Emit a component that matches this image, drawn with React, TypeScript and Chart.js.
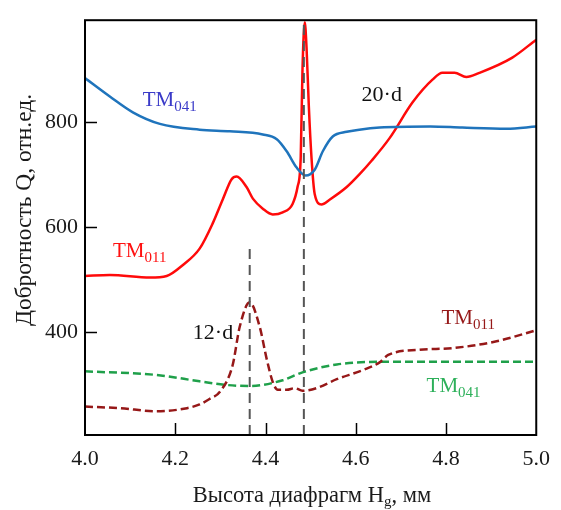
import React, { useEffect, useRef } from "react";
import { Chart, registerables } from "chart.js";

Chart.register(...registerables);

// ---- data ----
const xTicks = [4.2, 4.4, 4.6, 4.8];
const yTicks = [400, 600, 800];

const tm041SolidX = [4.0, 4.055, 4.106, 4.166, 4.254, 4.321, 4.394, 4.425, 4.447, 4.469, 4.489, 4.509, 4.527, 4.549, 4.58, 4.608, 4.653, 4.765, 4.836, 4.934, 5.0];
const tm041SolidY = [883, 848, 818, 796, 785, 782, 776, 767, 744, 713, 698, 709, 744, 772, 781, 785, 789, 791, 789, 787, 791];

const tm011SolidX = [4.0, 4.055, 4.144, 4.181, 4.217, 4.254, 4.283, 4.305, 4.325, 4.336, 4.358, 4.372, 4.394, 4.416, 4.438, 4.46, 4.471, 4.478, 4.482, 4.487, 4.491, 4.496, 4.502, 4.509, 4.524, 4.542, 4.58, 4.608, 4.635, 4.675, 4.726, 4.77, 4.792, 4.819, 4.845, 4.874, 4.947, 5.0];
const tm011SolidY = [507, 509, 504, 507, 528, 559, 607, 652, 691, 696, 676, 654, 635, 624, 628, 644, 676, 731, 900, 989, 940, 830, 731, 663, 643, 652, 676, 700, 726, 769, 837, 880, 893, 893, 885, 893, 922, 956];

const tm011DashX = [4.0, 4.077, 4.159, 4.226, 4.254, 4.277, 4.299, 4.327, 4.343, 4.365, 4.387, 4.403, 4.416, 4.427, 4.447, 4.465, 4.482, 4.513, 4.558, 4.615, 4.653, 4.672, 4.741, 4.814, 4.912, 5.0];
const tm011DashY = [259, 256, 250, 256, 263, 274, 287, 337, 411, 457, 411, 348, 306, 291, 291, 294, 289, 294, 311, 328, 343, 357, 367, 370, 383, 404];

const tm041DashX = [4.0, 4.159, 4.254, 4.314, 4.365, 4.438, 4.482, 4.558, 4.653, 4.8, 5.0];
const tm041DashY = [326, 319, 307, 300, 298, 309, 324, 339, 344, 344, 344];

const markerX = [4.365, 4.485];
const markerTop = [565, 993];

const FONT = '"Liberation Serif", "Times New Roman", serif';

type Lbl = { x: number; y: number; main: string; sub: string; color: string; size: number };
const curveLabels: Lbl[] = [
  { x: 4.128, y: 830, main: "TM", sub: "041", color: "#3a3ac8", size: 21 },
  { x: 4.062, y: 543, main: "TM", sub: "011", color: "#ff1010", size: 21 },
  { x: 4.79, y: 415, main: "TM", sub: "011", color: "#961818", size: 21 },
  { x: 4.757, y: 287, main: "TM", sub: "041", color: "#2db05a", size: 21 },
  { x: 4.613, y: 839, main: "20·d", sub: "", color: "#111111", size: 22 },
  { x: 4.239, y: 387, main: "12·d", sub: "", color: "#111111", size: 22 },
];

const pts = (xs: number[], ys: number[]) => xs.map((x, i) => ({ x, y: ys[i] }));

const decorPlugin = {
  id: "decor",
  afterDatasetsDraw(chart: any) {
    const { ctx, chartArea: a, scales } = chart;
    const xs = scales.x;
    const ys = scales.y;
    ctx.save();
    // dashed markers
    ctx.strokeStyle = "#555555";
    ctx.lineWidth = 2;
    ctx.setLineDash([10, 6]);
    markerX.forEach((mx, i) => {
      const px = xs.getPixelForValue(mx);
      ctx.beginPath();
      ctx.moveTo(px, a.bottom);
      ctx.lineTo(px, ys.getPixelForValue(markerTop[i]));
      ctx.stroke();
    });
    ctx.setLineDash([]);
    // labels
    curveLabels.forEach((l) => {
      const px = xs.getPixelForValue(l.x);
      const py = ys.getPixelForValue(l.y);
      ctx.fillStyle = l.color;
      ctx.textAlign = "left";
      ctx.textBaseline = "alphabetic";
      ctx.font = `${l.size}px ${FONT}`;
      ctx.fillText(l.main, px, py);
      if (l.sub) {
        const w = ctx.measureText(l.main).width;
        ctx.font = `15px ${FONT}`;
        ctx.fillText(l.sub, px + w, py + 5);
      }
    });
    ctx.restore();
  },
  afterDraw(chart: any) {
    const { ctx, chartArea: a, scales } = chart;
    ctx.save();
    ctx.strokeStyle = "#000";
    ctx.lineWidth = 2;
    ctx.strokeRect(a.left, a.top, a.right - a.left, a.bottom - a.top);
    ctx.lineWidth = 1.5;
    xTicks.forEach((t) => {
      const px = Math.round(scales.x.getPixelForValue(t)) + 0.5;
      ctx.beginPath();
      ctx.moveTo(px, a.bottom);
      ctx.lineTo(px, a.bottom - 12);
      ctx.stroke();
    });
    yTicks.forEach((t) => {
      const py = Math.round(scales.y.getPixelForValue(t)) + 0.5;
      ctx.beginPath();
      ctx.moveTo(a.left, py);
      ctx.lineTo(a.left + 12, py);
      ctx.stroke();
    });
    // axis titles
    ctx.fillStyle = "#1a1a1a";
    ctx.textBaseline = "alphabetic";
    const big = `22.5px ${FONT}`;
    const small = `15px ${FONT}`;
    const p1 = "Высота диафрагм H";
    const p2 = "g";
    const p3 = ", мм";
    ctx.font = big;
    const w1 = ctx.measureText(p1).width;
    const w3 = ctx.measureText(p3).width;
    ctx.font = small;
    const w2 = ctx.measureText(p2).width;
    const total = w1 + w2 + w3;
    const sx = 312 - total / 2;
    const by = 502;
    ctx.textAlign = "left";
    ctx.font = big;
    ctx.fillText(p1, sx, by);
    ctx.font = small;
    ctx.fillText(p2, sx + w1, by + 4);
    ctx.font = big;
    ctx.fillText(p3, sx + w1 + w2, by);

    ctx.translate(31, 210);
    ctx.rotate(-Math.PI / 2);
    ctx.textAlign = "center";
    ctx.font = `23.5px ${FONT}`;
    ctx.fillText("Добротность Q, отн.ед.", 0, 0);
    ctx.restore();
  },
};

export default function App() {
  const ref = useRef<HTMLCanvasElement | null>(null);
  useEffect(() => {
    document.body.style.margin = "0";
    const canvas = ref.current;
    if (!canvas) return;
    const chart = new Chart(canvas, {
      type: "line",
      data: {
        datasets: [
          {
            label: "TM041",
            data: pts(tm041SolidX, tm041SolidY),
            borderColor: "#1f74bc",
            borderWidth: 2.5,
            pointRadius: 0,
            cubicInterpolationMode: "monotone",
          },
          {
            label: "TM011 20·d",
            data: pts(tm011SolidX, tm011SolidY),
            borderColor: "#ff0a0a",
            borderWidth: 2.5,
            pointRadius: 0,
            cubicInterpolationMode: "monotone",
          },
          {
            label: "TM011 12·d",
            data: pts(tm011DashX, tm011DashY),
            borderColor: "#961818",
            borderWidth: 2.5,
            borderDash: [8, 4],
            pointRadius: 0,
            cubicInterpolationMode: "monotone",
          },
          {
            label: "TM041 dashed",
            data: pts(tm041DashX, tm041DashY),
            borderColor: "#1fa04a",
            borderWidth: 2.5,
            borderDash: [8, 4],
            pointRadius: 0,
            cubicInterpolationMode: "monotone",
          },
        ],
      },
      options: {
        animation: false,
        responsive: false,
        events: [],
        layout: { padding: { top: 9, right: 24, left: 0, bottom: 0 } },
        plugins: { legend: { display: false }, tooltip: { enabled: false } },
        scales: {
          x: {
            type: "linear",
            min: 4,
            max: 5,
            afterBuildTicks: (s: any) => {
              s.ticks = [4.0, ...xTicks, 5.0].map((v) => ({ value: v }));
            },
            afterFit: (s: any) => {
              s.height = 75;
            },
            ticks: {
              callback: (v: any) => Number(v).toFixed(1),
              font: { family: FONT, size: 22 },
              color: "#1a1a1a",
              padding: 11,
              maxRotation: 0,
            },
            grid: { display: false, drawTicks: false },
            border: { display: false },
          },
          y: {
            type: "linear",
            min: 205,
            max: 993,
            afterBuildTicks: (s: any) => {
              s.ticks = yTicks.map((v) => ({ value: v }));
            },
            afterFit: (s: any) => {
              s.width = 85;
            },
            ticks: {
              font: { family: FONT, size: 22 },
              color: "#1a1a1a",
              padding: 7,
            },
            grid: { display: false, drawTicks: false },
            border: { display: false },
          },
        },
      },
      plugins: [decorPlugin],
    } as any);
    return () => chart.destroy();
  }, []);
  return (
    <div style={{ width: 561, height: 510 }}>
      <canvas ref={ref} width={561} height={510} style={{ width: 561, height: 510 }} />
    </div>
  );
}
